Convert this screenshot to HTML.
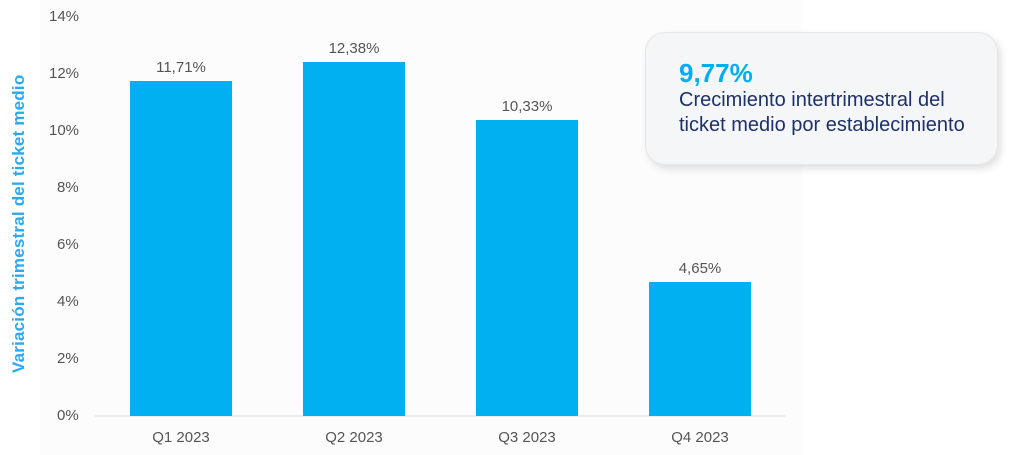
<!DOCTYPE html>
<html><head><style>
body{margin:0;width:1024px;height:455px;background:#fff;position:relative;font-family:"Liberation Sans",sans-serif;overflow:hidden}
.panel{position:absolute;left:40px;top:0;width:762px;height:455px;background:#fcfcfc}
.t{position:absolute;color:#555;font-size:15px}
.bar{position:absolute;background:#00b0f0;width:102px}
.box{position:absolute;left:645px;top:32px;width:351px;height:131px;background:#f5f6f7;border:1px solid #e4e6e8;border-radius:20px;box-shadow:3px 4px 8px rgba(0,0,0,0.12)}
</style></head><body>
<div class="panel"></div>
<div style="position:absolute;left:95px;top:415px;width:690px;height:2px;background:#ebebeb"></div>
<div class="t" style="left:49px;top:8px">14%</div>
<div class="t" style="left:49px;top:65px">12%</div>
<div class="t" style="left:49px;top:122px">10%</div>
<div class="t" style="left:57px;top:179px">8%</div>
<div class="t" style="left:57px;top:236px">6%</div>
<div class="t" style="left:57px;top:293px">4%</div>
<div class="t" style="left:57px;top:350px">2%</div>
<div class="t" style="left:57px;top:407px">0%</div>
<div style="position:absolute;left:9px;top:373px;transform-origin:0 0;transform:rotate(-90deg);color:#2aa9f0;font-weight:bold;font-size:17px;white-space:nowrap;letter-spacing:0.2px">Variación trimestral del ticket medio</div>
<div class="bar" style="left:130px;top:81px;height:335px"></div>
<div class="bar" style="left:303px;top:62px;height:354px"></div>
<div class="bar" style="left:476px;top:120px;height:296px"></div>
<div class="bar" style="left:649px;top:282px;height:134px"></div>
<div class="t" style="left:130px;width:102px;text-align:center;top:59px">11,71%</div>
<div class="t" style="left:303px;width:102px;text-align:center;top:40px">12,38%</div>
<div class="t" style="left:476px;width:102px;text-align:center;top:98px">10,33%</div>
<div class="t" style="left:649px;width:102px;text-align:center;top:260px">4,65%</div>
<div class="t" style="left:130px;width:102px;text-align:center;top:429px">Q1 2023</div>
<div class="t" style="left:303px;width:102px;text-align:center;top:429px">Q2 2023</div>
<div class="t" style="left:476px;width:102px;text-align:center;top:429px">Q3 2023</div>
<div class="t" style="left:649px;width:102px;text-align:center;top:429px">Q4 2023</div>
<div class="box"></div>
<div style="position:absolute;left:679px;top:58px;color:#00aeef;font-weight:bold;font-size:26px">9,77%</div>
<div style="position:absolute;left:679px;top:88px;color:#1d3067;font-size:20px;line-height:25px">Crecimiento intertrimestral del<br>ticket medio por establecimiento</div>
</body></html>
